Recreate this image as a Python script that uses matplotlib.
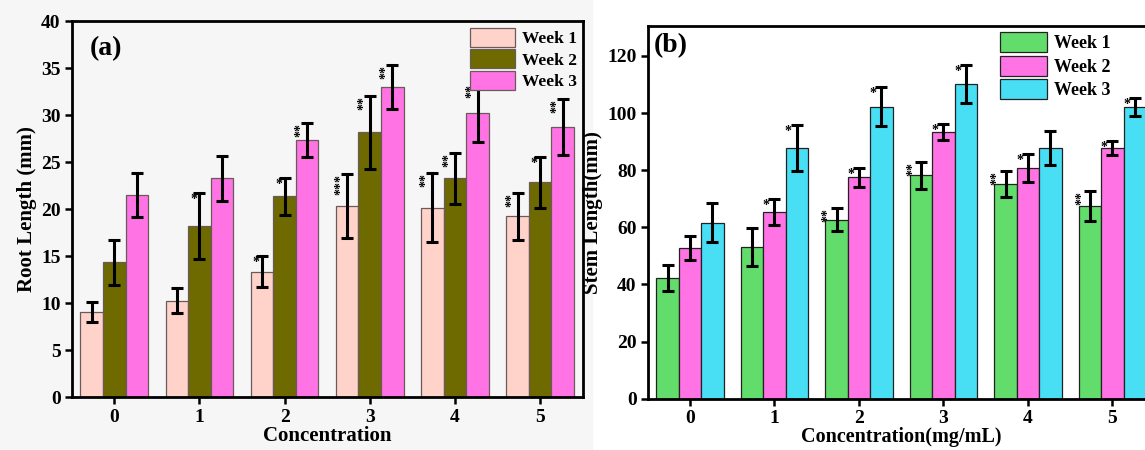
import numpy as np
import matplotlib
matplotlib.use("Agg")
import matplotlib.pyplot as plt
from matplotlib.patches import Rectangle

plt.rcParams['font.family'] = ['Liberation Serif', 'DejaVu Serif']
plt.rcParams['font.weight'] = 'bold'
plt.rcParams['axes.labelweight'] = 'bold'

# ---- data ----
conc = [0, 1, 2, 3, 4, 5]
weeks = ['Week 1', 'Week 2', 'Week 3']

root_w1 = [9.1, 10.3, 13.4, 20.4, 20.2, 19.3]
root_w2 = [14.4, 18.2, 21.4, 28.2, 23.3, 22.9]
root_w3 = [21.5, 23.3, 27.4, 33.0, 30.3, 28.8]
root_e1 = [1.1, 1.35, 1.65, 3.4, 3.65, 2.5]
root_e2 = [2.4, 3.5, 2.0, 3.9, 2.75, 2.7]
root_e3 = [2.35, 2.35, 1.8, 2.35, 3.1, 3.0]
root_s1 = ['', '', '*', '***', '**', '**']
root_s2 = ['', '*', '*', '**', '**', '*']
root_s3 = ['', '', '**', '**', '**', '**']

stem_w1 = [42.2, 53.0, 62.6, 78.2, 75.2, 67.6]
stem_w2 = [52.7, 65.4, 77.5, 93.3, 80.7, 87.7]
stem_w3 = [61.6, 87.9, 102.2, 110.2, 87.7, 102.2]
stem_e1 = [4.5, 6.7, 4.0, 4.8, 4.4, 5.3]
stem_e2 = [4.1, 4.6, 3.2, 2.8, 4.9, 2.5]
stem_e3 = [6.9, 8.1, 6.8, 6.8, 6.0, 3.2]
stem_s1 = ['', '', '**', '**', '**', '**']
stem_s2 = ['', '*', '*', '*', '*', '*']
stem_s3 = ['', '*', '*', '*', '', '*']

root_colors = ['#FFD3CA', '#6E6A00', '#FF73E4']
stem_colors = ['#62DC6A', '#FF73E4', '#48DEF4']

fig = plt.figure(figsize=(11.45, 4.5), dpi=100)
# light grey backdrop of the left screenshot
fig.patches.append(Rectangle((0, 0), 0.517, 1, transform=fig.transFigure,
                             color='#f6f6f6', zorder=-10))

ax1 = fig.add_axes([0.0626, 0.1167, 0.4463, 0.8356])
ax2 = fig.add_axes([0.5657, 0.114, 0.4428, 0.8282])
ax1.patch.set_alpha(0)

w = 0.265
x = np.arange(len(conc))


def draw(ax, vals, errs, stars, colors, edge, dx):
    for i, (v, e, s, c) in enumerate(zip(vals, errs, stars, colors)):
        xs = x + (i - 1) * w
        ax.bar(xs, v, w, color=c, edgecolor=edge, linewidth=0.9,
               label=weeks[i], zorder=2)
        ax.errorbar(xs, v, yerr=e, fmt='none', ecolor='black', elinewidth=2.2,
                    capsize=4.5, capthick=2.2, zorder=3)
        for xi, vi, ei, si in zip(xs, v, e, s):
            if si:
                rot = 90 if len(si) > 1 else 0
                ax.text(xi - dx, vi + ei, si, rotation=rot, ha='center',
                        va='top', fontsize=10, zorder=4)


draw(ax1, [root_w1, root_w2, root_w3], [root_e1, root_e2, root_e3],
     [root_s1, root_s2, root_s3], root_colors, '#6a5a5a', 0.07)
draw(ax2, [stem_w1, stem_w2, stem_w3], [stem_e1, stem_e2, stem_e3],
     [stem_s1, stem_s2, stem_s3], stem_colors, '#222222', 0.1)

ax1.set_xlim(-0.5, 5.5)
ax1.set_ylim(0, 40)
ax1.set_yticks(np.arange(0, 41, 5))
ax2.set_xlim(-0.5, 5.5)
ax2.set_ylim(0, 130.5)
ax2.set_yticks(np.arange(0, 121, 20))

for ax in (ax1, ax2):
    ax.set_xticks(x)
    ax.set_xticklabels([str(c) for c in conc])
    ax.tick_params(direction='out', length=5, width=1.8, labelsize=14, pad=3)
    for sp in ax.spines.values():
        sp.set_linewidth(2)

ax1.set_xlabel('Concentration', fontsize=15, labelpad=0)
ax1.set_ylabel('Root Length (mm)', fontsize=15, labelpad=3)
ax2.set_xlabel('Concentration(mg/mL)', fontsize=14.5, labelpad=0)
ax2.set_ylabel('Stem Length(mm)', fontsize=15, labelpad=3)

ax1.text(0.035, 0.96, '(a)', transform=ax1.transAxes, fontsize=20,
         va='top', ha='left')
ax2.text(0.012, 0.98, '(b)', transform=ax2.transAxes, fontsize=20,
         va='top', ha='left')

ax1.legend(loc='upper right', bbox_to_anchor=(1.01, 1.01), frameon=False,
           fontsize=12.5, handlelength=2.6, handleheight=1.3, labelspacing=0.12,
           handletextpad=0.4, borderaxespad=0.2)
ax2.legend(loc='upper right', bbox_to_anchor=(0.935, 1.012), frameon=False,
           fontsize=13, handlelength=2.6, handleheight=1.3, labelspacing=0.2,
           handletextpad=0.4, borderaxespad=0.2)

fig.savefig('out.png', dpi=100)
